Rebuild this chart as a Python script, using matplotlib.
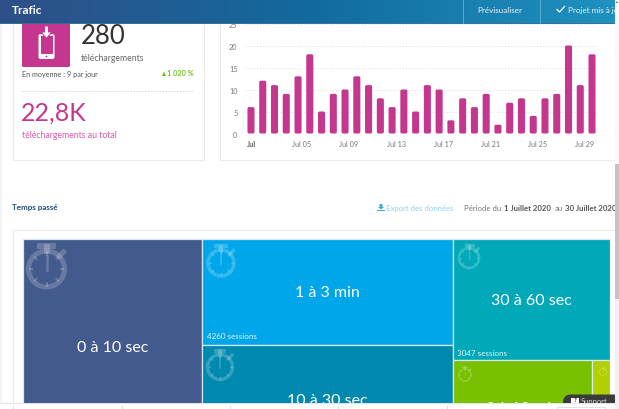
import numpy as np
import matplotlib
matplotlib.use("Agg")
import matplotlib.pyplot as plt
from matplotlib.patches import Rectangle, FancyBboxPatch, Circle, Polygon
from matplotlib.transforms import ScaledTranslation

plt.rcParams['font.family'] = ['Lato', 'DejaVu Sans']

# bar chart data (downloads per day)
days = list(range(1, 31))
downloads = [6, 12, 11, 9, 13, 18, 5, 9, 10, 13, 11, 8, 6, 10, 5,
             11, 10, 3, 8, 6, 9, 2, 7, 8, 4, 8, 9, 20, 11, 18]
day_labels = ["Jul", "Jul 05", "Jul 09", "Jul 13", "Jul 17", "Jul 21", "Jul 25", "Jul 29"]
y_ticks = [0, 5, 10, 15, 20, 25]

# treemap data (sessions, estimated from areas apart from the two printed ones)
tree_names = ["0 à 10 sec", "1 à 3 min", "10 à 30 sec", "30 à 60 sec", "3 à 10 min", "+ 10 min"]
tree_sessions = [6230, 4260, 4430, 3047, 2120, 268]
tree_colors = ["#435a8c", "#00a6ea", "#0089ae", "#00a8b8", "#78c000", "#b0d000"]

W, H = 619, 410
fig = plt.figure(figsize=(W / 100, H / 100), dpi=100, facecolor="white")


def px_axes(left, top, right, bottom, z):
    return fig.add_axes([left / W, 1 - bottom / H, (right - left) / W, (bottom - top) / H], zorder=z)


# background layer in pixels
bg = px_axes(0, 0, W, H, 0)
bg.set_xlim(0, W)
bg.set_ylim(H, 0)
bg.axis("off")
border = "#ececec"
bg.add_patch(Rectangle((0, 0), 2, H, fc="#f2f6f7", ec="none"))
bg.add_patch(Rectangle((12.5, 10), 191, 151, fc="white", ec=border, lw=0.8))
bg.add_patch(Rectangle((219.5, 10), 420, 151, fc="white", ec=border, lw=0.8))
bg.add_patch(Rectangle((12.5, 230.5), 640, 200, fc="white", ec=border, lw=0.8))

bg.add_patch(FancyBboxPatch((22, 10), 48, 58, boxstyle="round,pad=0,rounding_size=1.5", fc="#c5378f", ec="none"))
bg.add_patch(FancyBboxPatch((38.5, 35), 16, 25, boxstyle="round,pad=0,rounding_size=2", fc="white", ec="none"))
bg.add_patch(Rectangle((40.5, 37), 12, 18, fc="#c5378f", ec="none"))
bg.add_patch(Circle((46.5, 57.5), 0.9, fc="#c5378f", ec="none"))
bg.add_patch(Polygon([[44.5, 27], [48.5, 27], [48.5, 33], [52, 33], [46.5, 39.5], [41, 33], [44.5, 33]],
                     fc="white", ec="#c5378f", lw=0.8))

bg.text(81, 36, "280", fontsize=18.5, color="#333333", va="center", ha="left")
bg.text(81, 58.5, "téléchargements", fontsize=6.2, color="#666666", va="center")
bg.text(21.5, 74, "En moyenne : 9 par jour", fontsize=5.2, color="#555555", va="center")
bg.add_patch(Polygon([[162, 77], [166, 77], [164, 72.5]], fc="#6fbf1f", ec="none"))
bg.text(194, 74, "1 020 %", fontsize=5.3, color="#78c22a", va="center", ha="right", fontweight="bold")
bg.plot([22, 194], [92, 92], color="#d8d8d8", lw=0.7, ls=(0, (1.5, 1.5)))
bg.text(21, 113, "22,8K", fontsize=18, color="#c5378f", va="center")
bg.text(21.5, 135.5, "téléchargements au total", fontsize=6.2, color="#d957a8", va="center")

bg.text(12, 208, "Temps passé", fontsize=5.8, color="#1c4f6e", va="center", fontweight="bold")
bg.add_patch(Polygon([[379.5, 205], [382.5, 205], [382.5, 208], [384, 208], [381, 210.5], [378, 208], [379.5, 208]],
                     fc="#3ba8e0", ec="none"))
bg.add_patch(Rectangle((377, 210.5), 8, 1.5, fc="#3ba8e0", ec="none"))
bg.text(386.5, 209, "Export des données", fontsize=5.6, color="#8fd0f2", va="center")
bg.text(464, 209, "Période du", fontsize=5.6, color="#777777", va="center")
bg.text(504.5, 209, "1 Juillet 2020", fontsize=5.6, color="#555555", va="center", fontweight="bold")
bg.text(555, 209, "au", fontsize=5.6, color="#777777", va="center")
bg.text(565, 209, "30 Juillet 2020", fontsize=5.6, color="#555555", va="center", fontweight="bold")

# bar chart, scale: y=0 at pixel 134.5, y=20 at pixel 46.5
ax = px_axes(245.1, 24.5, 597.9, 134.5, 1)
ax.set_xlim(-0.5, 29.5)
ax.set_ylim(0, 25)
ax.patch.set_alpha(0)
bars = ax.bar(range(len(days)), downloads, width=0.6, color="#c5378f")
x_scale = 352.8 / 30
y_scale = 110 / 25
for b in bars:
    b.set_visible(False)
    ax.add_patch(FancyBboxPatch((b.get_x(), 0), b.get_width(), b.get_height(),
                                boxstyle="round,pad=0,rounding_size=0.14",
                                mutation_aspect=x_scale / y_scale,
                                fc="#c5378f", ec="none", zorder=3, clip_on=False))
ax.set_yticks(y_ticks)
ax.set_xticks(range(0, 30, 4))
ax.set_xticklabels(day_labels)
ax.tick_params(axis="both", length=0, labelsize=5.2, labelcolor="#777777")
ax.tick_params(axis="y", pad=5.5)
ax.tick_params(axis="x", pad=5)
for i, lab in enumerate(ax.get_xticklabels()):
    if i == 0:
        lab.set_fontweight("bold")
        lab.set_color("#555555")
    else:
        lab.set_transform(lab.get_transform() + ScaledTranslation(4 / 100, 0, fig.dpi_scale_trans))
ax.grid(axis="y", color="#dcdcdc", lw=0.7, ls=(0, (1, 2)))
ax.set_axisbelow(True)
for s in ax.spines.values():
    s.set_visible(False)

# treemap: slice and dice from the session counts, runs below the visible page
tm = px_axes(22.5, 240, 610, 456, 1)
total = sum(tree_sessions)
tm.set_xlim(0, total)
tm.set_ylim(1, 0)
tm.axis("off")
columns = [[0], [1, 2], [3, None]]
col2 = tree_sessions[1] + tree_sessions[2]
col3 = sum(tree_sessions[3:])
tile_edge = "#d6e9f2"


def tile(x0, y0, w, h, i):
    tm.add_patch(Rectangle((x0, y0), w, h, fc=tree_colors[i], ec=tile_edge, lw=0.9))
    tm.text(x0 + w / 2, y0 + h / 2, tree_names[i], color="white", ha="center", va="center",
            fontsize=11.5 if w / total * 587 > 100 else 3, clip_on=True)


x = 0
tile(x, 0, tree_sessions[0], 1, 0)
x += tree_sessions[0]
h1 = tree_sessions[1] / col2
tile(x, 0, col2, h1, 1)
tile(x, h1, col2, 1 - h1, 2)
x += col2
h3 = tree_sessions[3] / col3
tile(x, 0, col3, h3, 3)
rest = tree_sessions[4] + tree_sessions[5]
tile(x, h3, col3 * tree_sessions[4] / rest, 1 - h3, 4)
tile(x + col3 * tree_sessions[4] / rest, h3, col3 * tree_sessions[5] / rest, 1 - h3, 5)

# overlay layer in pixels
top = px_axes(0, 0, W, H, 5)
top.set_xlim(0, W)
top.set_ylim(H, 0)
top.axis("off")
top.patch.set_alpha(0)


def stopwatch(cx, cy, r, alpha=0.2):
    lw = r * 0.2
    top.add_patch(Circle((cx, cy), r, fc="none", ec="white", lw=lw, alpha=alpha))
    top.plot([cx, cx], [cy - r * 0.75, cy + r * 0.05], color="white", lw=lw * 0.5, alpha=alpha)
    top.plot([cx, cx], [cy - r, cy - r * 1.25], color="white", lw=lw * 1.2, alpha=alpha)
    top.plot([cx - r * 0.35, cx + r * 0.35], [cy - r * 1.3, cy - r * 1.3], color="white", lw=lw * 1.2, alpha=alpha)
    top.plot([cx + r * 0.72, cx + r * 0.95], [cy - r * 0.72, cy - r * 0.95], color="white", lw=lw, alpha=alpha)
    for a in np.arange(0, 360, 45):
        s, c = np.sin(np.radians(a)), np.cos(np.radians(a))
        top.plot([cx + s * r * 0.78, cx + s * r * 0.92], [cy + c * r * 0.78, cy + c * r * 0.92],
                 color="white", lw=lw * 0.4, alpha=alpha)


stopwatch(46.5, 270, 18)
stopwatch(221, 264, 13)
stopwatch(220, 368, 12.5)
stopwatch(469, 259, 10)
stopwatch(465, 376, 6)
stopwatch(603, 373, 3.5)

top.text(207, 336.5, "4260 sessions", fontsize=5.8, color="white", va="center", alpha=0.9)
top.text(457, 353.5, "3047 sessions", fontsize=5.8, color="white", va="center", alpha=0.9)

# header
grad = np.linspace(0, 1, 256).reshape(1, -1)
cmap = matplotlib.colors.LinearSegmentedColormap.from_list("hdr", ["#2f4f87", "#126a9e", "#1f92c0"])
top.imshow(grad, extent=(0, 615, 24, 0), cmap=cmap, aspect="auto", zorder=4)
top.set_xlim(0, W)
top.set_ylim(H, 0)
top.plot([0, 615], [24.3, 24.3], color="#2f6f96", lw=0.7, zorder=4)
top.plot([462.5, 462.5], [0, 24], color="#5cabcf", lw=0.7, zorder=5)
top.plot([539.5, 539.5], [0, 24], color="#5cabcf", lw=0.7, zorder=5)
top.text(12, 10.5, "Trafic", fontsize=8.5, color="white", va="center", fontweight="bold", zorder=5)
top.text(500, 10.5, "Prévisualiser", fontsize=5.8, color="#e8f4fa", va="center", ha="center", zorder=5)
top.plot([557, 559.5, 564.5], [10.5, 13, 7.5], color="white", lw=0.9, zorder=5)
top.text(568.5, 10.5, "Projet mis à jour", fontsize=5.8, color="#e8f4fa", va="center", zorder=5,
         clip_on=True, clip_path=Rectangle((0, 0), 615, 24, transform=top.transData))

# bottom strip of the page
top.add_patch(Rectangle((0, 404), W, 6, fc="white", ec="none", zorder=6))
top.plot([0, 615], [404.3, 404.3], color="#e3e3e3", lw=0.7, zorder=6)
for xt in [13, 122, 230, 338, 447]:
    top.plot([xt, xt], [407, 410], color="#d8d8d8", lw=0.6, zorder=6)
top.add_patch(Rectangle((557, 407.5), 48, 4, fc="none", ec="#dddddd", lw=0.6, zorder=6))

# help widget
top.add_patch(FancyBboxPatch((563, 395.5), 60, 15, boxstyle="round,pad=0,rounding_size=8",
                             fc="#3b3b3b", ec="none", zorder=5.5))
top.add_patch(Rectangle((571, 399), 8, 5, fc="white", ec="none", zorder=5.6))
top.text(575, 401, "?", fontsize=4.5, color="#333333", ha="center", va="center", fontweight="bold", zorder=5.7)
top.text(581, 402, "Support", fontsize=5.5, color="#dddddd", va="center", zorder=5.6,
         clip_on=True, clip_path=Rectangle((0, 396), 615, 8, transform=top.transData))
top.add_patch(Rectangle((0, 404), W, 6, fc="white", ec="none", zorder=5.8))

# scrollbar
top.add_patch(Rectangle((615, 0), 4, H, fc="#f1f1f1", ec="none", zorder=7))
top.add_patch(Rectangle((615, 0), 4, 165, fc="#fafafa", ec="none", zorder=7))
top.add_patch(Rectangle((615, 165), 4, 135, fc="#c4c4c4", ec="none", zorder=7))
top.add_patch(Polygon([[616, 4], [618, 4], [617, 2]], fc="#555555", ec="none", zorder=8))

fig.savefig("out.png", dpi=100)
